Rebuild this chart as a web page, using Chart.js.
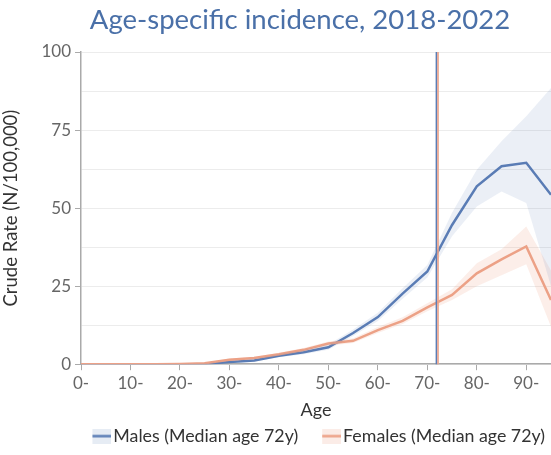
<!DOCTYPE html>
<html>
<head>
<meta charset="utf-8">
<script src="https://cdn.jsdelivr.net/npm/chart.js@4/dist/chart.umd.min.js"></script>
<style>
  html, body { margin: 0; padding: 0; background: #fff; }
  #wrap { width: 551px; height: 455px; }
</style>
</head>
<body>
<div id="wrap"><canvas id="chAge" width="551" height="455"></canvas></div>
<script>
// age groups (start of 5-year band)
var ages = [0, 5, 10, 15, 20, 25, 30, 35, 40, 45, 50, 55, 60, 65, 70, 75, 80, 85, 90, 95];

// crude rates per 100,000
var males = [0, 0, 0, 0, 0, 0.1, 0.7, 1.2, 2.7, 3.8, 5.4, 10.0, 15.1, 22.6, 29.7, 44.6, 57.0, 63.4, 64.5, 54.3];
var malesLo = [0, 0, 0, 0, 0, 0, 0.4, 0.8, 2.2, 3.2, 4.6, 9.0, 13.8, 21.0, 27.8, 41.0, 50.5, 55.3, 51.6, 25.0];
var malesHi = [0, 0, 0, 0, 0.1, 0.3, 1.0, 1.7, 3.3, 4.5, 6.3, 11.1, 16.5, 24.3, 31.8, 48.5, 62.3, 71.4, 79.4, 88.5];

var females = [0, 0, 0, 0, 0.1, 0.3, 1.4, 2.0, 3.2, 4.6, 6.6, 7.5, 10.9, 13.9, 18.2, 22.2, 29.1, 33.6, 37.7, 20.6];
var femalesLo = [0, 0, 0, 0, 0, 0.1, 1.0, 1.6, 2.7, 4.0, 5.9, 6.8, 10.0, 12.9, 17.0, 20.6, 25.0, 28.5, 32.0, 12.0];
var femalesHi = [0, 0, 0, 0, 0.2, 0.5, 1.8, 2.4, 3.7, 5.2, 7.3, 8.3, 11.9, 15.0, 19.5, 24.0, 32.3, 36.8, 44.1, 30.0];

var medianAge = [72, 72]; // males, females
var xTicks = [0, 10, 20, 30, 40, 50, 60, 70, 80, 90];

// colors
var blue = '#5a7db5';
var blueFill = 'rgba(90,125,181,0.12)';
var salmon = '#eca187';
var salmonFill = 'rgba(236,161,135,0.18)';

function pts(arr) {
  return ages.map(function (a, i) { return { x: a, y: arr[i] }; });
}

// legend marker: light box with a line through it, drawn at the right
// of a wider canvas so it sits close to its label
function marker(line, fill) {
  var c = document.createElement('canvas');
  c.width = 44; c.height = 15;
  var g = c.getContext('2d');
  g.fillStyle = fill;
  g.fillRect(25, 0, 19, 15);
  g.strokeStyle = line;
  g.lineWidth = 2.5;
  g.beginPath(); g.moveTo(25, 7.5); g.lineTo(44, 7.5); g.stroke();
  return c;
}
var mkMale = marker(blue, 'rgba(90,125,181,0.15)');
var mkFemale = marker(salmon, 'rgba(236,161,135,0.2)');

// title + median lines
var extras = {
  id: 'extras',
  afterDatasetsDraw: function (chart) {
    var ctx = chart.ctx, xs = chart.scales.x, a = chart.chartArea;
    var cols = [blue, salmon];
    medianAge.forEach(function (m, i) {
      var px = xs.getPixelForValue(m) + (i === 0 ? -0.8 : 0.8);
      ctx.save();
      ctx.strokeStyle = cols[i];
      ctx.lineWidth = 1.6;
      ctx.beginPath(); ctx.moveTo(px, a.top); ctx.lineTo(px, a.bottom); ctx.stroke();
      ctx.restore();
    });
  },
  afterDraw: function (chart) {
    var ctx = chart.ctx;
    ctx.save();
    ctx.font = '27.5px Lato';
    ctx.fillStyle = '#4a70a8';
    ctx.textAlign = 'center';
    ctx.textBaseline = 'middle';
    ctx.fillText('Age-specific incidence, 2018-2022', 300, 20);
    ctx.restore();
  }
};

Chart.defaults.font.family = 'Lato';

new Chart(document.getElementById('chAge'), {
  type: 'line',
  data: {
    datasets: [
      { label: 'mlo', data: pts(malesLo), borderWidth: 0, pointRadius: 0, fill: false, backgroundColor: blueFill },
      { label: 'mhi', data: pts(malesHi), borderWidth: 0, pointRadius: 0, fill: '-1', backgroundColor: blueFill },
      { label: 'flo', data: pts(femalesLo), borderWidth: 0, pointRadius: 0, fill: false, backgroundColor: salmonFill },
      { label: 'fhi', data: pts(femalesHi), borderWidth: 0, pointRadius: 0, fill: '-1', backgroundColor: salmonFill },
      { label: 'Females (Median age 72y)', data: pts(females), borderColor: salmon, borderWidth: 2.5, pointRadius: 0, fill: false, pointStyle: mkFemale },
      { label: 'Males (Median age 72y)', data: pts(males), borderColor: blue, borderWidth: 2.5, pointRadius: 0, fill: false, pointStyle: mkMale }
    ]
  },
  options: {
    responsive: false,
    animation: false,
    layout: { padding: { top: 52, right: 0, bottom: 0, left: 0 } },
    plugins: {
      title: { display: false },
      tooltip: { enabled: false },
      legend: {
        position: 'bottom',
        align: 'end',
        reverse: true,
        labels: {
          usePointStyle: true,
          pointStyleWidth: 30,
          color: '#333',
          font: { size: 17.8 },
          padding: 6,
          filter: function (item) { return item.text.indexOf('Median') > 0; }
        }
      }
    },
    scales: {
      x: {
        type: 'linear',
        min: 0, max: 95,
        afterBuildTicks: function (s) { s.ticks = xTicks.map(function (v) { return { value: v }; }); },
        afterFit: function (s) { s.height = 57; },
        ticks: { color: '#666', font: { size: 17 }, padding: 3, maxRotation: 0, callback: function (v) { return v + '-'; } },
        grid: { drawOnChartArea: false, tickLength: 6, tickColor: '#aaa' },
        border: { color: '#aaa', width: 1.5 },
        title: { display: true, text: 'Age', color: '#333', font: { size: 18 }, padding: { top: 0, bottom: 0 } }
      },
      y: {
        min: 0, max: 100,
        afterFit: function (s) { s.width = 81; },
        ticks: {
          stepSize: 12.5, color: '#666', font: { size: 17 }, padding: 4,
          callback: function (v) { return v % 25 === 0 ? v : ''; }
        },
        grid: {
          color: '#ececec', tickLength: 6,
          tickColor: function (c) { return c.tick && c.tick.value % 25 === 0 ? '#aaa' : 'transparent'; }
        },
        border: { color: '#aaa', width: 1.5 },
        title: { display: true, text: 'Crude Rate (N/100,000)', color: '#333', font: { size: 18.5 }, padding: { top: 0, bottom: 6 } }
      }
    }
  },
  plugins: [extras]
});
</script>
</body>
</html>
